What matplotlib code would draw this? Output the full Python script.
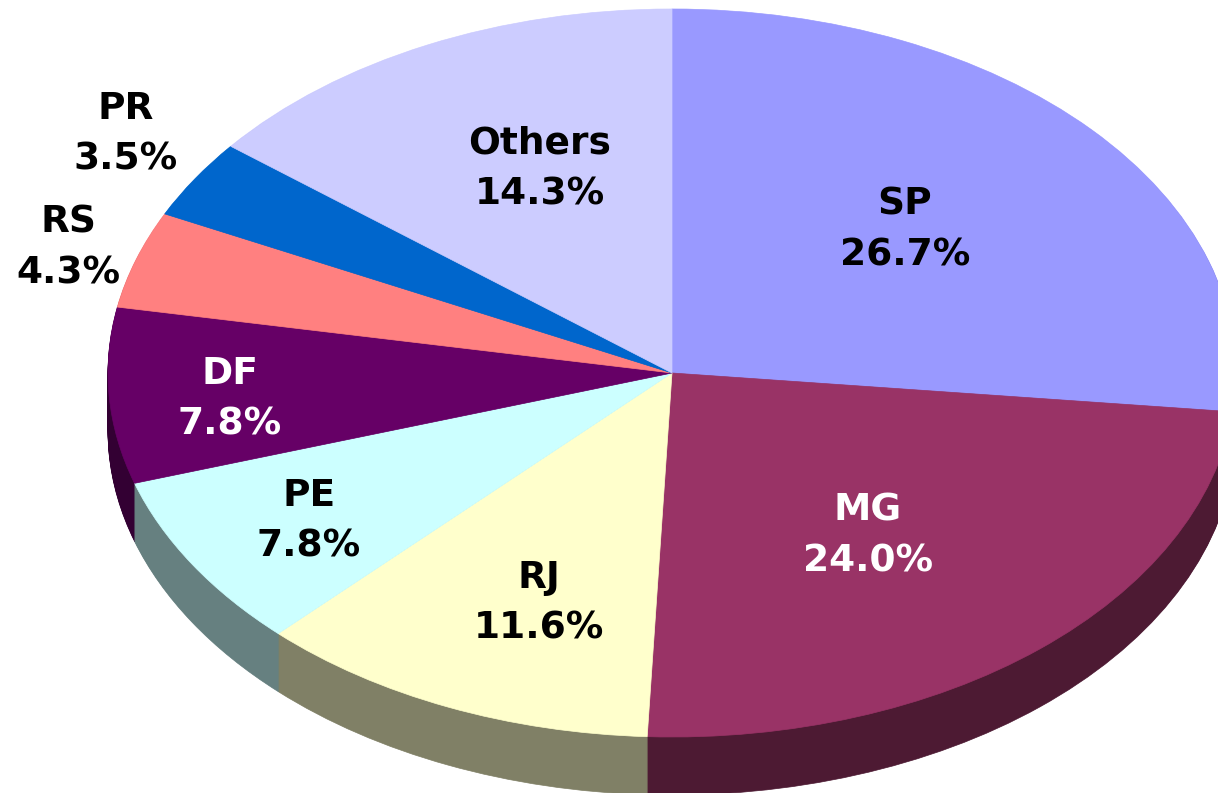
import matplotlib
matplotlib.use("Agg")
import matplotlib.pyplot as plt

W, H = 1218, 793

states = ["SP", "MG", "RJ", "PE", "DF", "RS", "PR", "Others"]
shares = [26.7, 24.0, 11.6, 7.8, 7.8, 4.3, 3.5, 14.3]
top_colors = ["#9999FF", "#993366", "#FFFFCC", "#CCFFFF", "#660066", "#FF8080", "#0066CC", "#CCCCFF"]
side_colors = ["#4D4D80", "#4D1A33", "#808066", "#668080", "#330033", "#804040", "#003366", "#666680"]
text_colors = ["black", "white", "black", "black", "white", "black", "black", "black"]

# label centres in pixels, measured from top left
label_xy = [(905, 230), (868, 536), (539, 603), (309, 521), (230, 399), (68, 248), (126, 134), (540, 169)]

# pie centre and radii in pixels
cx, cy = 672, 373
rx, ry = 564, 364
depth = 58

fig = plt.figure(figsize=(W / 100, H / 100), dpi=100)
ax = fig.add_axes([0, 0, 1, 1])


def draw_pie(shift, colors):
    wedges, _ = ax.pie(shares, colors=colors, startangle=90, counterclock=False,
                       center=(0, -shift / ry), radius=1)
    # same colour edge hides the seam between slices
    for w, c in zip(wedges, colors):
        w.set_edgecolor(c)
        w.set_linewidth(0.5)
    return wedges


for d in range(depth, 0, -1):
    draw_pie(d, side_colors)
draw_pie(0, top_colors)

# one data unit is rx pixels across and ry pixels up
ax.set_aspect("auto")
ax.set_xlim(-cx / rx, (W - cx) / rx)
ax.set_ylim(-(H - cy) / ry, cy / ry)
ax.axis("off")

for name, val, col, (px, py) in zip(states, shares, text_colors, label_xy):
    ax.text(px / W, 1 - py / H, f"{name}\n{val:.1f}%", transform=fig.transFigure,
            ha="center", va="center", color=col, fontsize=27, fontweight="bold",
            family="DejaVu Sans", linespacing=1.52)

fig.savefig("out.png", dpi=100)
